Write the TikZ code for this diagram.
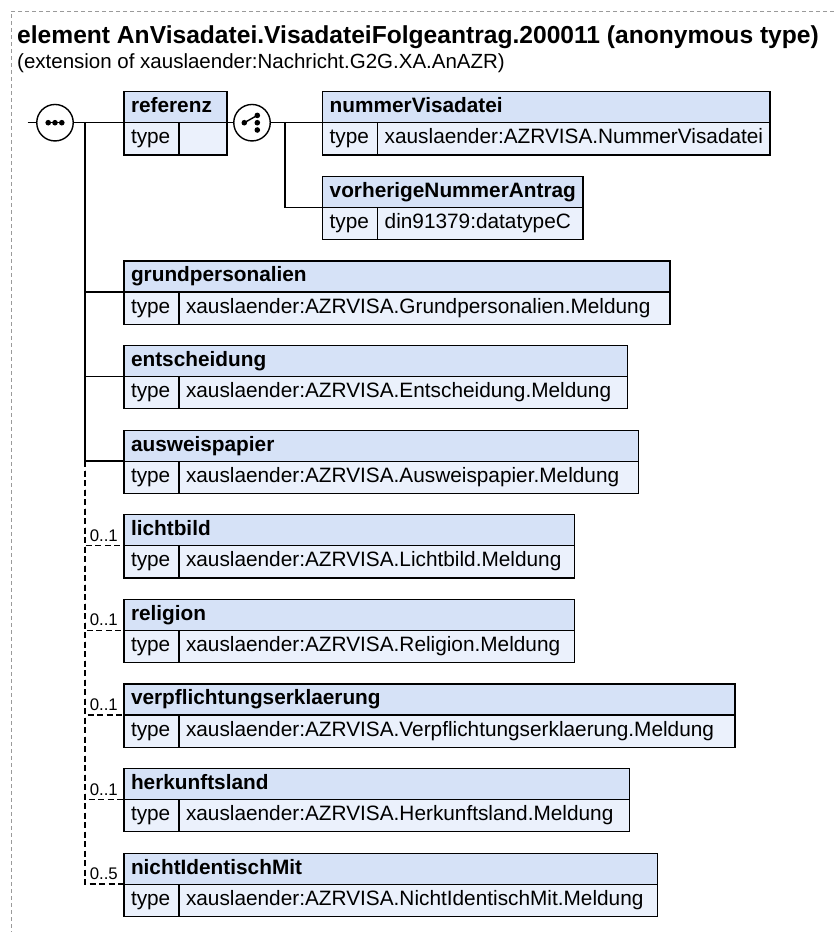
\documentclass[tikz,border=0pt]{standalone}
\usepackage{fontspec}
\setmainfont{Liberation Sans}
\usetikzlibrary{calc}
\definecolor{hdrfill}{HTML}{D6E2F7}
\definecolor{typefill}{HTML}{EBF1FC}
\definecolor{framegray}{HTML}{9A9A9A}
\newcommand\bxfont{\fontsize{20.8}{24}\selectfont}
\tikzset{
  boxbase/.style={draw=black, line width=1.2pt, anchor=north west, outer sep=0pt, inner xsep=7pt, align=left, font=\bxfont},
  hdr/.style={boxbase, fill=hdrfill, inner ysep=5.5pt, text height=15.5pt, text depth=4.5pt, font=\bxfont\bfseries},
  typecell/.style={boxbase, fill=typefill, inner ysep=6.1pt, text height=15pt, text depth=5pt, text width=41pt},
  valcell/.style={boxbase, fill=typefill, inner ysep=6.1pt, text height=15pt, text depth=5pt},
  conn/.style={draw=black, line width=1.3pt},
  dconn/.style={draw=black, line width=1.3pt, dash pattern=on 6pt off 3.5pt},
  grp/.style={circle, draw=black, fill=white, line width=1.4pt, minimum size=36.5pt, inner sep=0pt, outer sep=0pt},
  mult/.style={anchor=base east, inner sep=0pt, font=\fontsize{16.8}{18}\selectfont},
  framedash/.style={draw=framegray, line width=1pt, dash pattern=on 4pt off 3pt},
}
\newcommand\xsdelem[6]{%
  \pgfmathsetmacro\xsdw{#4-#2-14}%
  \pgfmathsetmacro\xsdv{#4-#2-55-14}%
  \node[hdr, text width=\xsdw pt] (#1) at (#2,#3) {\mbox{#5}};
  \node[typecell] (#1-t) at (#1.south west) {\mbox{type}};
  \node[valcell, text width=\xsdv pt] (#1-v) at (#1-t.north east) {\mbox{#6}};
}
\begin{document}
\begin{tikzpicture}[x=1pt,y=-1pt]
\useasboundingbox (0,0) rectangle (834,932);
\draw[framedash] (834,11) -- (11,11) -- (11,932);

\node[anchor=base west, inner sep=0pt, font=\bfseries\fontsize{24.6}{28}\selectfont] (title) at (17,43) {element AnVisadatei.VisadateiFolgeantrag.200011 (anonymous type)};
\node[anchor=base west, inner sep=0pt, font=\fontsize{20.5}{24}\selectfont] (subtitle) at (17,68.5) {(extension of xauslaender:Nachricht.G2G.XA.AnAZR)};

\xsdelem{referenz}{124}{91.7}{227}{referenz}{}
\xsdelem{nummer}{322.7}{91.7}{770}{nummerVisadatei}{xauslaender:AZRVISA.NummerVisadatei}
\xsdelem{vorh}{322.7}{176.3}{583}{vorherigeNummerAntrag}{din91379:datatypeC}
\xsdelem{grund}{124}{260.9}{670}{grundpersonalien}{xauslaender:AZRVISA.Grundpersonalien.Meldung}
\xsdelem{entsch}{124}{345.5}{627.7}{entscheidung}{xauslaender:AZRVISA.Entscheidung.Meldung}
\xsdelem{ausw}{124}{430.1}{638.3}{ausweispapier}{xauslaender:AZRVISA.Ausweispapier.Meldung}
\xsdelem{licht}{124}{514.7}{574.3}{lichtbild}{xauslaender:AZRVISA.Lichtbild.Meldung}
\xsdelem{relig}{124}{599.3}{574.3}{religion}{xauslaender:AZRVISA.Religion.Meldung}
\xsdelem{verpf}{124}{683.9}{735}{verpflichtungserklaerung}{xauslaender:AZRVISA.Verpflichtungserklaerung.Meldung}
\xsdelem{herk}{124}{768.5}{629.3}{herkunftsland}{xauslaender:AZRVISA.Herkunftsland.Meldung}
\xsdelem{nicht}{124}{853.1}{657.3}{nichtIdentischMit}{xauslaender:AZRVISA.NichtIdentischMit.Meldung}

% sequence compositor
\coordinate (start) at (27.7,122.7);
\node[grp] (seq) at (55,122.7) {};
\draw[line width=1.4pt] ([xshift=-7pt]seq.center) -- ([xshift=7pt]seq.center);
\fill ([xshift=-6.8pt]seq.center) circle (2.8pt);
\fill (seq.center) circle (2.8pt);
\fill ([xshift=6.8pt]seq.center) circle (2.8pt);
\draw[conn] (start) -- (seq.west);
\draw[conn] (seq.east) -- (referenz.south west);
\coordinate (trunk) at (85,122.7);
\draw[conn] (trunk) |- (grund.south west);
\draw[conn] (trunk) |- (entsch.south west);
\draw[conn] (trunk) |- (ausw.south west);
\coordinate (dtrunk) at (trunk |- ausw.south west);
\foreach \n in {licht,relig,verpf,herk,nicht} \draw[dconn] (dtrunk) |- (\n.south west);
\node[mult] (m-licht) at ([xshift=-6pt,yshift=4.5pt]licht.south west) {0..1};
\node[mult] (m-relig) at ([xshift=-6pt,yshift=4.5pt]relig.south west) {0..1};
\node[mult] (m-verpf) at ([xshift=-6pt,yshift=4.5pt]verpf.south west) {0..1};
\node[mult] (m-herk) at ([xshift=-6pt,yshift=4.5pt]herk.south west) {0..1};
\node[mult] (m-nicht) at ([xshift=-6pt,yshift=4.5pt]nicht.south west) {0..5};

% choice compositor
\node[grp] (cho) at (252,122.7) {};
\draw[line width=1.4pt] ([xshift=-7.7pt]cho.center) -- ([xshift=5.3pt,yshift=7.3pt]cho.center);
\fill ([xshift=-7.7pt]cho.center) circle (2.8pt);
\fill ([xshift=5.3pt,yshift=7.3pt]cho.center) circle (2.8pt);
\fill ([xshift=5.3pt]cho.center) circle (2.8pt);
\fill ([xshift=5.3pt,yshift=-7.3pt]cho.center) circle (2.8pt);
\draw[conn] (referenz.south east) -- (cho.west);
\draw[conn] (cho.east) -- (nummer.south west);
\coordinate (ctrunk) at (285,122.7);
\draw[conn] (ctrunk) |- (vorh.south west);
\end{tikzpicture}
\end{document}
